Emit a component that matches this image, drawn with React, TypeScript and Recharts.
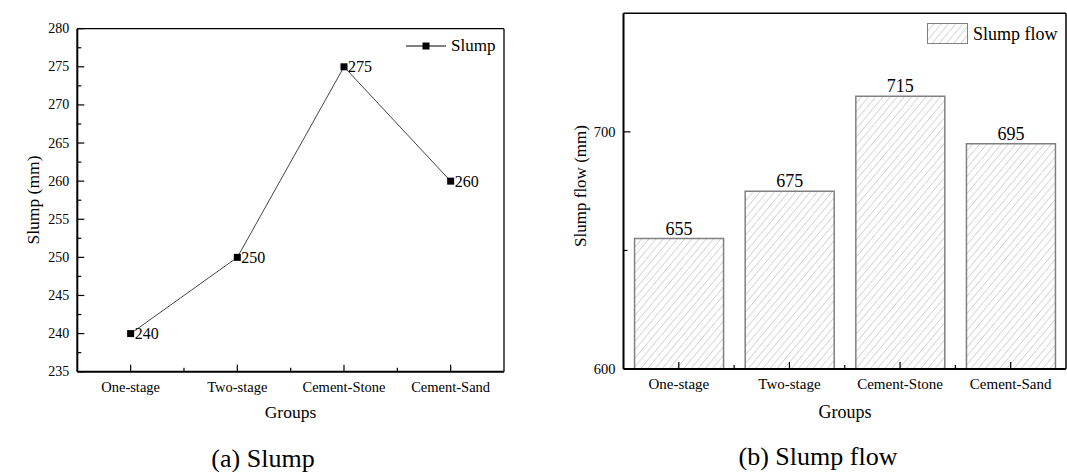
import { Bar, BarChart, LabelList, Line, LineChart, ReferenceLine, XAxis, YAxis } from 'recharts'

const groups = ['One-stage', 'Two-stage', 'Cement-Stone', 'Cement-Sand']
const slump = [240, 250, 275, 260]
const slumpFlow = [655, 675, 715, 695]

const groupTicks = [0, 0.5, 1, 1.5, 2, 2.5, 3]
const slumpTicks = [235, 237.5, 240, 242.5, 245, 247.5, 250, 252.5, 255, 257.5, 260, 262.5, 265, 267.5, 270, 272.5, 275, 277.5, 280]
const flowTicks = [600, 650, 700]
const flowLabels = [600, 700]

const lineData = groups.map((g, i) => ({ idx: i, group: g, slump: slump[i] }))
const barData = groups.map((g, i) => ({ group: g, flow: slumpFlow[i] }))

const FONT = '"Liberation Serif", "Times New Roman", serif'

// numeric axis tick: integers are categories, halves are minor ticks
function XTick({ x, y, payload, fs }: any) {
  const v = payload.value
  const major = Number.isInteger(v)
  return (
    <g>
      <line x1={x} x2={x} y1={y} y2={y - (major ? 7 : 4)} stroke="#000" strokeWidth={1.2} />
      {major && (
        <text x={x} y={y + 15} textAnchor="middle" dominantBaseline="central" fontSize={fs} fill="#000">
          {groups[v]}
        </text>
      )}
    </g>
  )
}

// band axis tick: major at band centre, minor at band boundary
function BandTick({ x, y, payload, index, visibleTicksCount, width, fs }: any) {
  const step = payload.offset ? payload.offset * 2 : width / visibleTicksCount
  return (
    <g>
      <line x1={x} x2={x} y1={y} y2={y - 7} stroke="#000" strokeWidth={1.2} />
      {index < visibleTicksCount - 1 && (
        <line x1={x + step / 2} x2={x + step / 2} y1={y} y2={y - 4} stroke="#000" strokeWidth={1.2} />
      )}
      <text x={x} y={y + 15} textAnchor="middle" dominantBaseline="central" fontSize={fs} fill="#000">
        {payload.value}
      </text>
    </g>
  )
}

function YTick({ x, y, payload, labeled, fs }: any) {
  const v = payload.value
  const major = labeled.includes(v)
  return (
    <g>
      <line x1={x} x2={x + (major ? 7 : 4)} y1={y} y2={y} stroke="#000" strokeWidth={1.2} />
      {major && (
        <text x={x - 8} y={y} textAnchor="end" dominantBaseline="central" fontSize={fs} fill="#000">
          {v}
        </text>
      )}
    </g>
  )
}

function SquareDot({ cx, cy, index }: any) {
  return <rect key={index} x={cx - 3.5} y={cy - 3.5} width={7} height={7} fill="#000" />
}

const Label = ({ x, y, size, rotate, children }: any) => (
  <div
    style={{
      position: 'absolute',
      left: x,
      top: y,
      fontSize: size,
      lineHeight: 1,
      whiteSpace: 'nowrap',
      transform: `translate(-50%, -50%)${rotate ? ' rotate(-90deg)' : ''}`,
    }}
  >
    {children}
  </div>
)

export default function App() {
  const slumpLabeled = slumpTicks.filter((t) => t % 5 === 0)
  return (
    <div style={{ position: 'absolute', left: 0, top: 0, width: 1067, height: 472, background: '#fff', fontFamily: FONT, color: '#000' }}>
      <svg width={0} height={0} style={{ position: 'absolute' }}>
        <defs>
          <pattern id="hatch" patternUnits="userSpaceOnUse" width={5.5} height={5.5} patternTransform="rotate(40)">
            <rect width={5.5} height={5.5} fill="#fff" />
            <line x1={0} y1={0} x2={0} y2={5.5} stroke="#b0b0b0" strokeWidth={1} />
          </pattern>
        </defs>
      </svg>

      <div style={{ position: 'absolute', left: 0, top: 0 }}>
        <LineChart width={540} height={440} data={lineData} margin={{ top: 28.7, right: 36, bottom: 0, left: 0 }}>
          <XAxis
            dataKey="idx"
            type="number"
            domain={[-0.5, 3.5]}
            allowDataOverflow
            ticks={groupTicks}
            interval={0}
            height={68.3}
            tickSize={0}
            tickMargin={0}
            tickLine={false}
            axisLine={false}
            tick={<XTick fs={14.5} />}
          />
          <YAxis
            domain={[235, 280]}
            allowDataOverflow
            ticks={slumpTicks}
            interval={0}
            width={77.3}
            tickSize={0}
            tickMargin={0}
            tickLine={false}
            axisLine={false}
            tick={<YTick labeled={slumpLabeled} fs={14} />}
          />
          <ReferenceLine y={280} stroke="#000" strokeWidth={1.3} />
          <ReferenceLine x={3.5} stroke="#000" strokeWidth={1.3} />
          <ReferenceLine y={235} stroke="#000" strokeWidth={2} />
          <ReferenceLine x={-0.5} stroke="#000" strokeWidth={2} />
          <Line dataKey="slump" stroke="#444" strokeWidth={1} dot={<SquareDot />} activeDot={false} isAnimationActive={false}>
            <LabelList dataKey="slump" position="right" offset={4} fontSize={16} fill="#000" />
          </Line>
        </LineChart>
      </div>

      <div style={{ position: 'absolute', left: 540, top: 0 }}>
        <BarChart width={527} height={440} data={barData} margin={{ top: 13.3, right: 1, bottom: 0, left: 0 }}>
          <XAxis
            dataKey="group"
            interval={0}
            height={71}
            tickSize={0}
            tickMargin={0}
            tickLine={false}
            axisLine={false}
            tick={<BandTick fs={15} />}
          />
          <YAxis
            domain={[600, 750]}
            allowDataOverflow
            ticks={flowTicks}
            interval={0}
            width={83.5}
            tickSize={0}
            tickMargin={0}
            tickLine={false}
            axisLine={false}
            tick={<YTick labeled={flowLabels} fs={14.5} />}
          />
          <Bar dataKey="flow" fill="url(#hatch)" stroke="#808080" strokeWidth={1.5} isAnimationActive={false}>
            <LabelList dataKey="flow" position="top" offset={4} fontSize={18} fill="#000" />
          </Bar>
          <ReferenceLine y={750} stroke="#000" strokeWidth={1.5} ifOverflow="visible" />
          <ReferenceLine x={groups[3]} position="end" stroke="#000" strokeWidth={1.5} ifOverflow="visible" />
          <ReferenceLine y={600} stroke="#000" strokeWidth={2} ifOverflow="visible" />
          <ReferenceLine x={groups[0]} position="start" stroke="#000" strokeWidth={2} ifOverflow="visible" />
        </BarChart>
      </div>

      {/* legends */}
      <div style={{ position: 'absolute', left: 406, top: 37, display: 'flex', alignItems: 'center', fontSize: 17, lineHeight: 1 }}>
        <svg width={40} height={14}>
          <line x1={0} x2={40} y1={7} y2={7} stroke="#000" strokeWidth={1} />
          <rect x={16.5} y={3.5} width={7} height={7} fill="#000" />
        </svg>
        <span style={{ marginLeft: 5 }}>Slump</span>
      </div>
      <div style={{ position: 'absolute', left: 927, top: 23, display: 'flex', alignItems: 'center', fontSize: 18, lineHeight: 1 }}>
        <svg width={41} height={21}>
          <rect x={0.5} y={0.5} width={40} height={20} fill="url(#hatch)" stroke="#808080" strokeWidth={1} />
        </svg>
        <span style={{ marginLeft: 5 }}>Slump flow</span>
      </div>

      {/* axis titles and captions */}
      <Label x={290.5} y={413} size={17.5}>Groups</Label>
      <Label x={34} y={200} size={17.5} rotate>Slump (mm)</Label>
      <Label x={845} y={412} size={18}>Groups</Label>
      <Label x={580} y={186} size={17} rotate>Slump flow (mm)</Label>
      <Label x={263} y={459} size={26}>(a) Slump</Label>
      <Label x={818} y={457} size={26}>(b) Slump flow</Label>
    </div>
  )
}
